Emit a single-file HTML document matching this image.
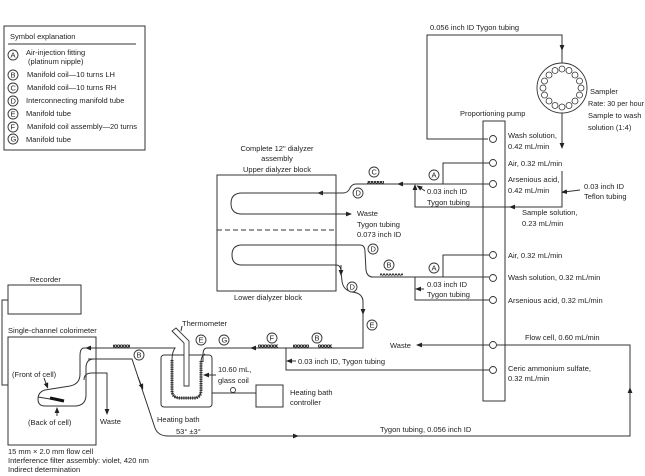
<!DOCTYPE html>
<html><head><style>
html,body{margin:0;padding:0;background:#fff;}
svg{display:block;}
text{font-family:"Liberation Sans",sans-serif;font-size:7.5px;fill:#222;}
.l{fill:none;stroke:#333;stroke-width:1;}
.c{fill:#fff;stroke:#333;stroke-width:0.9;}
</style></head><body>
<svg width="645" height="476" viewBox="0 0 645 476" xmlns="http://www.w3.org/2000/svg">
<defs>
<marker id="a" viewBox="0 0 10 10" refX="5" refY="5" markerWidth="6" markerHeight="6" orient="auto-start-reverse"><path d="M0,1 L10,5 L0,9 z" fill="#222"/></marker>
<pattern id="coil" width="3" height="4" patternUnits="userSpaceOnUse"><circle cx="1.5" cy="2" r="1.2" fill="none" stroke="#222" stroke-width="0.9"/></pattern>
</defs>

<!-- Legend -->
<rect x="4" y="26" width="141" height="124" class="l"/>
<text x="10" y="39">Symbol explanation</text>
<line x1="8" y1="44" x2="136" y2="44" class="l"/>
<g>
<circle cx="13" cy="55" r="5" class="c"/><text x="10.5" y="57.5" font-size="6">A</text>
<text x="26" y="55">Air-injection fitting</text><text x="28" y="64">(platinum nipple)</text>
<circle cx="13" cy="75" r="5" class="c"/><text x="10.5" y="77.5" font-size="6">B</text><text x="27" y="77">Manifold coil—10 turns LH</text>
<circle cx="13" cy="88" r="5" class="c"/><text x="10.5" y="90.5" font-size="6">C</text><text x="27" y="90">Manifold coil—10 turns RH</text>
<circle cx="13" cy="101" r="5" class="c"/><text x="10.5" y="103.5" font-size="6">D</text><text x="26" y="103">Interconnecting manifold tube</text>
<circle cx="13" cy="114" r="5" class="c"/><text x="10.5" y="116.5" font-size="6">E</text><text x="26" y="116">Manifold tube</text>
<circle cx="13" cy="127" r="5" class="c"/><text x="10.5" y="129.5" font-size="6">F</text><text x="27" y="129">Manifold coil assembly—20 turns</text>
<circle cx="13" cy="139" r="5" class="c"/><text x="10.5" y="141.5" font-size="6">G</text><text x="26" y="142">Manifold tube</text>
</g>

<!-- Sampler -->
<text x="430" y="30">0.056 inch ID Tygon tubing</text>
<path d="M488 139 H427 V35 H562 V63" class="l"/>
<path d="M562 38 V48" class="l" marker-end="url(#a)"/>
<circle cx="562" cy="88" r="25" class="c"/>
<g fill="#fff" stroke="#333" stroke-width="0.8">
<circle cx="562" cy="69" r="3"/><circle cx="569" cy="70.5" r="3"/><circle cx="575" cy="75" r="3"/><circle cx="579.5" cy="81" r="3"/><circle cx="581" cy="88" r="3"/><circle cx="579.5" cy="95" r="3"/><circle cx="575" cy="101" r="3"/><circle cx="569" cy="105.5" r="3"/><circle cx="562" cy="107" r="3"/><circle cx="555" cy="105.5" r="3"/><circle cx="549" cy="101" r="3"/><circle cx="544.5" cy="95" r="3"/><circle cx="543" cy="88" r="3"/><circle cx="544.5" cy="81" r="3"/><circle cx="549" cy="75" r="3"/><circle cx="555" cy="70.5" r="3"/>
</g>
<text x="590" y="94">Sampler</text>
<text x="588" y="106" textLength="56" lengthAdjust="spacingAndGlyphs">Rate: 30 per hour</text>
<text x="588" y="118">Sample to wash</text>
<text x="588" y="130">solution (1:4)</text>
<path d="M562 113 V146" class="l" marker-end="url(#a)"/>
<path d="M562 171 V207 H415 V187" class="l" marker-end="url(#a)"/>
<path d="M520 207 H512" class="l" marker-end="url(#a)"/>
<text x="584" y="189">0.03 inch ID</text><text x="584" y="199">Teflon tubing</text>
<path d="M580 190 L564 192" class="l" marker-end="url(#a)"/>
<text x="522" y="215">Sample solution,</text><text x="522" y="226">0.23 mL/min</text>

<!-- Pump -->
<text x="460" y="116">Proportioning pump</text>
<rect x="483" y="121" width="22" height="280" class="l"/>
<g fill="#fff" stroke="#333" stroke-width="0.9">
<circle cx="493" cy="139" r="3.5"/><circle cx="493" cy="163" r="3.5"/><circle cx="493" cy="184" r="3.5"/>
<circle cx="493" cy="255" r="3.5"/><circle cx="493" cy="278" r="3.5"/><circle cx="493" cy="300" r="3.5"/>
<circle cx="493" cy="345" r="3.5"/><circle cx="493" cy="370" r="3.5"/>
</g>
<text x="508" y="138">Wash solution,</text><text x="508" y="149">0.42 mL/min</text>
<text x="508" y="166">Air, 0.32 mL/min</text>
<text x="508" y="182">Arsenious acid,</text><text x="508" y="193">0.42 mL/min</text>
<text x="508" y="258">Air, 0.32 mL/min</text>
<text x="508" y="280">Wash solution, 0.32 mL/min</text>
<text x="508" y="303">Arsenious acid, 0.32 mL/min</text>
<text x="525" y="340">Flow cell, 0.60 mL/min</text>
<text x="508" y="371">Ceric ammonium sulfate,</text><text x="508" y="381">0.32 mL/min</text>

<!-- upper manifold -->
<path d="M489 184 H356 Q352 184 350 188 Q348 193 343 193 H322" class="l"/>
<path d="M410 184 H400" class="l" marker-end="url(#a)"/>
<path d="M328 193 H320" class="l" marker-end="url(#a)"/>
<path d="M489 163 H443 V184" class="l"/>
<rect x="367" y="181" width="17" height="3.5" fill="url(#coil)"/>
<circle cx="374" cy="172" r="5" class="c"/><text x="371.5" y="174.5" font-size="6">C</text>
<circle cx="358" cy="193" r="5" class="c"/><text x="355.5" y="195.5" font-size="6">D</text>
<circle cx="434" cy="175" r="5" class="c"/><text x="431.5" y="177.5" font-size="6">A</text>
<text x="427" y="194">0.03 inch ID</text><text x="427" y="205">Tygon tubing</text>
<path d="M425 191 L419 187" class="l" marker-end="url(#a)"/>

<!-- Dialyzer -->
<text x="277" y="151" text-anchor="middle">Complete 12" dialyzer</text>
<text x="277" y="161" text-anchor="middle">assembly</text>
<text x="277" y="172" text-anchor="middle">Upper dialyzer block</text>
<rect x="217" y="175" width="119" height="116" class="l"/>
<line x1="217" y1="230" x2="336" y2="230" stroke="#333" stroke-dasharray="5,3"/>
<text x="268" y="300" text-anchor="middle">Lower dialyzer block</text>
<path d="M322 193 H242 Q231 193 231 203.5 Q231 214 242 214 H348" class="l"/>
<path d="M340 214 H349" class="l" marker-end="url(#a)"/>
<text x="357" y="216">Waste</text>
<text x="357" y="227">Tygon tubing</text><text x="357" y="237">0.073 inch ID</text>
<path d="M242 245 H360 Q365 245 365 252 L366 270 Q367 277 373 277 H489" class="l"/>
<path d="M242 245 Q232 245 232 255 Q232 265 242 265 H336 Q341 265 341 272 L342 281 Q343 290 352 292 Q363 293 363 302 V348 H290" class="l"/>
<path d="M341 265 V273" class="l" marker-end="url(#a)"/>
<path d="M363 302 V312" class="l" marker-end="url(#a)"/>
<circle cx="373" cy="249" r="5" class="c"/><text x="370.5" y="251.5" font-size="6">D</text>
<circle cx="352" cy="287" r="5" class="c"/><text x="349.5" y="289.5" font-size="6">D</text>
<circle cx="372" cy="325" r="5" class="c"/><text x="369.5" y="327.5" font-size="6">E</text>
<rect x="380" y="273.5" width="23" height="3.5" fill="url(#coil)"/>
<circle cx="389" cy="265" r="5" class="c"/><text x="386.5" y="267.5" font-size="6">B</text>
<path d="M489 255 H443 V277" class="l"/>
<circle cx="434" cy="268" r="5" class="c"/><text x="431.5" y="270.5" font-size="6">A</text>
<path d="M415 277 V300 H489" class="l"/>
<text x="427" y="287">0.03 inch ID</text><text x="427" y="297">Tygon tubing</text>
<path d="M424 289 L418 289" class="l" marker-end="url(#a)"/>

<!-- lower main line -->
<path d="M290 348 H207 Q203 348 203 355 V362" class="l"/>
<path d="M262 348 H253" class="l" marker-end="url(#a)"/>
<rect x="258" y="344.5" width="20" height="3.5" fill="url(#coil)"/>
<rect x="293" y="344.5" width="16" height="3.5" fill="url(#coil)"/>
<rect x="318" y="344.5" width="14" height="3.5" fill="url(#coil)"/>
<circle cx="272" cy="338" r="5" class="c"/><text x="269.5" y="340.5" font-size="6">F</text>
<circle cx="317" cy="338" r="5" class="c"/><text x="314.5" y="340.5" font-size="6">B</text>
<circle cx="224" cy="340" r="5" class="c"/><text x="221.5" y="342.5" font-size="6">G</text>
<circle cx="201" cy="340" r="5" class="c"/><text x="198.5" y="342.5" font-size="6">E</text>
<path d="M286 348 V370 H489" class="l"/>
<path d="M296 361 H289" class="l" marker-end="url(#a)"/>
<text x="298" y="364">0.03 inch ID, Tygon tubing</text>
<path d="M489 345 H420" class="l"/>
<path d="M428 345 H419" class="l" marker-end="url(#a)"/>
<text x="390" y="348">Waste</text>
<path d="M497 345 H630 V436 H168 Q158 436 155 428 L132 359 H88" class="l"/>
<path d="M630 402 V390" class="l" marker-end="url(#a)"/>
<path d="M286 436 H296" class="l" marker-end="url(#a)"/>
<path d="M138 377 L142 387" class="l" marker-end="url(#a)"/>
<text x="380" y="432">Tygon tubing, 0.056 inch ID</text>
<circle cx="139" cy="355" r="5" class="c"/><text x="136.5" y="357.5" font-size="6">B</text>

<!-- heating bath -->
<rect x="161" y="355" width="51" height="52" rx="3" class="l"/>
<path d="M170 348 H175 Q172 352 172 360 V390 Q172 398 180 398 H194 Q201 398 201 390 V362 Q201 356 205 354" class="l"/>
<path d="M172 360 V390 Q172 398 180 398 H194 Q201 398 201 390 V360" fill="none" stroke="#333" stroke-width="3" stroke-dasharray="1.2,1"/>
<path d="M172 331 L184 343 V386 H189 V341 L176 328 Z" fill="#fff" stroke="#333" stroke-width="0.9"/>
<text x="182" y="326">Thermometer</text>
<path d="M182 326 L181 331" class="l"/>
<path d="M212 393 H256" class="l"/>
<circle cx="233" cy="390" r="2.5" class="c"/>
<rect x="256" y="385" width="27" height="22" class="l"/>
<text x="290" y="395">Heating bath</text><text x="290" y="405">controller</text>
<text x="218" y="372">10.60 mL,</text><text x="218" y="383">glass coil</text>
<path d="M216 375 H206" class="l" marker-end="url(#a)"/>
<text x="157" y="422">Heating bath</text>
<text x="176" y="434">53° ±3°</text>

<!-- colorimeter -->
<text x="30" y="282">Recorder</text>
<rect x="8" y="285" width="73" height="29" class="l"/>
<path d="M8 300 H2 V385 H8" class="l"/>
<text x="8" y="333">Single-channel colorimeter</text>
<rect x="8" y="337" width="88" height="108" class="l"/>
<path d="M170 348 H90" class="l"/>
<path d="M98 348 H88" class="l" marker-end="url(#a)"/>
<rect x="113" y="344.5" width="17" height="3.5" fill="url(#coil)"/>
<path d="M88 348 H84 Q80 348 80 356 L80 374 Q80 384 70 386 L45 390 Q38 392 38 399 Q38 406 45 406 L76 406 Q86 405 86 395 L86 368 Q86 359 94 359" class="l"/>
<path d="M38 397 L62 401" class="l"/>
<path d="M50 398 L64 401" stroke="#111" stroke-width="3"/>
<path d="M84 380 Q84 373 92 373 H107 V410" class="l"/>
<path d="M107 402 V412" class="l" marker-end="url(#a)"/>
<text x="100" y="424">Waste</text>
<text x="12" y="377">(Front of cell)</text>
<path d="M44 378 L47 386" class="l" marker-end="url(#a)"/>
<text x="28" y="425">(Back of cell)</text>
<path d="M57 416 V410" class="l" marker-end="url(#a)"/>
<text x="8" y="454">15 mm × 2.0 mm flow cell</text>
<text x="8" y="463">Interference filter assembly: violet, 420 nm</text>
<text x="8" y="472">Indirect determination</text>
</svg>
</body></html>
